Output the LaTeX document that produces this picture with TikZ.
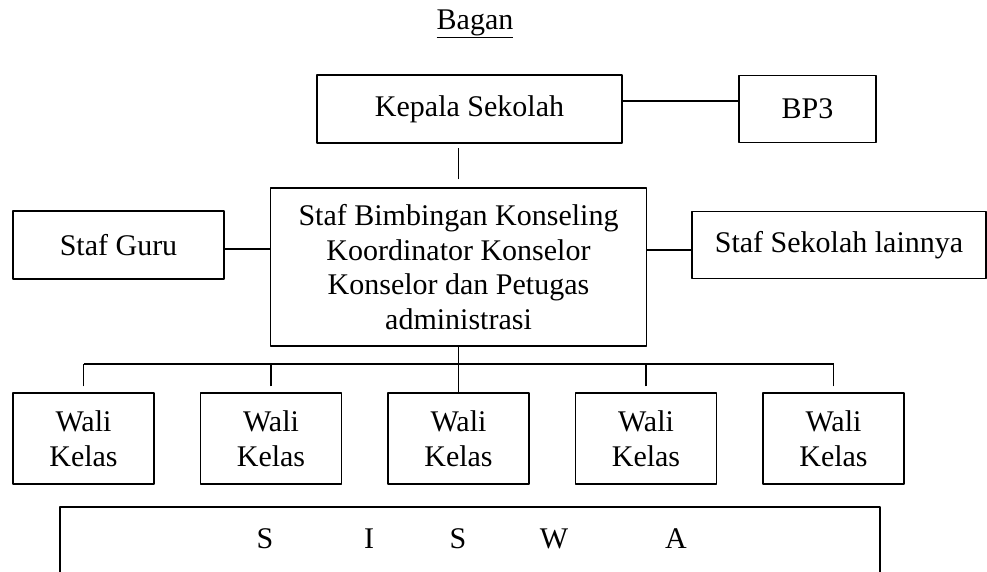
\documentclass[tikz,border=0pt]{standalone}
\usepackage{fontspec}
\setmainfont{Liberation Serif}
\begin{document}
\begin{tikzpicture}[x=1pt, y=-1pt, line join=round, font=\fontsize{30}{34.5}\selectfont,
 kotak/.style={draw, line width=1.2pt, align=center, inner sep=0pt},
 garis/.style={line width=1.2pt}]
 \useasboundingbox (0,0) rectangle (987,571);
 \clip (0,0) rectangle (987,571);
 \def \ywali{438.5}\def \ybar{364}
 \node (judul) at (475,24) {\underline{Bagan}};
 \node[kotak, minimum width=305pt, minimum height=68pt] (kepala) at (469.5,109) {Kepala Sekolah};
 \node[kotak, minimum width=137pt, minimum height=67pt] (bp3) at (807.5,109) {BP3};
 \node[kotak, minimum width=376pt, minimum height=158pt] (bk) at (458.5,267) {Staf Bimbingan Konseling\\Koordinator Konselor\\Konselor dan Petugas\\administrasi};
 \node[kotak, minimum width=211pt, minimum height=68pt] (guru) at (118.5,245) {Staf Guru};
 \node[kotak, minimum width=294pt, minimum height=67pt] (lain) at (839,245) {Staf Sekolah lainnya};
 \foreach \x [count=\i] in {83.5,271,458.5,646,833.5}
  \node[kotak, minimum width=141pt, minimum height=91pt] (wali\i) at (\x,\ywali) {Wali\\Kelas};
 \coordinate (bar) at (0,\ybar);
 % garis penghubung
 \draw[garis] ([yshift=8pt]kepala.east) -- ([yshift=8pt]bp3.west);
 \draw[garis] ([yshift=8pt]bk.north) -- ([yshift=-4pt]bk.north |- kepala.south);
 \draw[garis] ([yshift=-4pt]guru.east) -- ([yshift=-4pt]guru.east -| bk.west);
 \draw[garis] ([yshift=-5pt]lain.west) -- ([yshift=-5pt]lain.west -| bk.east);
 \draw[garis] (bk.south) -- (bk.south |- wali3.north);
 \draw[garis] (wali1.north |- bar) -- (wali5.north |- bar);
 \foreach \i in {1,2,4,5}
  \draw[garis] ([yshift=6pt]wali\i.north) -- (wali\i.north |- bar);
 % kotak siswa
 \draw[garis] (60,600) |- (880,507) -- (880,600);
 \foreach \l/\x [count=\k] in {S/265,I/369,S/458,W/554,A/676}
  \node (huruf\k) at (\x,538.5) {\l};
\end{tikzpicture}
\end{document}
